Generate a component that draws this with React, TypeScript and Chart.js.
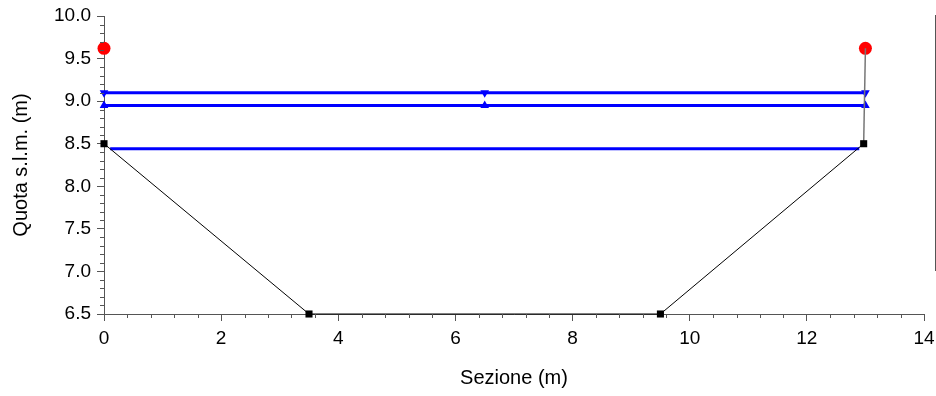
import React, { useEffect, useRef } from "react";
import { Chart, registerables } from "chart.js";

Chart.register(...registerables);

// Cross-section profile (black line, square markers)
const sectionX = [0, 3.5, 9.5, 12.97];
const sectionY = [8.5, 6.5, 6.5, 8.5];
// Bank tops (red circles)
const bankX = [0, 13];
const bankY = [9.62, 9.62];
// Right bank stem (grey line)
const stemX = [13, 12.97];
const stemY = [9.62, 8.5];
// Water levels (blue)
const level1X = [0, 6.5, 13];
const level1Y = [9.1, 9.1, 9.1];
const level2X = [0, 6.5, 13];
const level2Y = [8.95, 8.95, 8.95];
const level3X = [0.105, 12.895];
const level3Y = [8.44, 8.44];
// Axes
const xMin = 0, xMax = 14, xStep = 2, xMinorDiv = 5;
const yMin = 6.5, yMax = 10, yStep = 0.5, yMinorDiv = 5;
const xTitle = "Sezione (m)";
const yTitle = "Quota s.l.m. (m)";

const pts = (xs: number[], ys: number[]) => xs.map((x, i) => ({ x, y: ys[i] }));

const FONT = "'Liberation Sans', Arial, Helvetica, sans-serif";
const AXIS = "#555555";

const minorTicks = {
  id: "minorTicks",
  afterDraw(chart: any) {
    const { ctx, scales } = chart;
    const xs = scales.x, ys = scales.y;
    ctx.save();
    ctx.strokeStyle = AXIS;
    ctx.lineWidth = 1;
    ctx.beginPath();
    const xN = Math.round((xMax - xMin) / xStep) * xMinorDiv;
    for (let i = 0; i <= xN; i++) {
      if (i % xMinorDiv === 0) continue;
      const v = xMin + (i * xStep) / xMinorDiv;
      const px = Math.round(xs.getPixelForValue(v)) + 0.5;
      ctx.moveTo(px, xs.top);
      ctx.lineTo(px, xs.top + 4);
    }
    const yN = Math.round((yMax - yMin) / yStep) * yMinorDiv;
    for (let i = 0; i <= yN; i++) {
      if (i % yMinorDiv === 0) continue;
      const v = yMin + (i * yStep) / yMinorDiv;
      const py = Math.round(ys.getPixelForValue(v)) + 0.5;
      ctx.moveTo(ys.right, py);
      ctx.lineTo(ys.right - 4, py);
    }
    ctx.stroke();
    // cropped legend frame on the right edge
    ctx.beginPath();
    ctx.moveTo(935.5, 15);
    ctx.lineTo(935.5, 271);
    ctx.moveTo(935, 15.5);
    ctx.lineTo(940, 15.5);
    ctx.moveTo(935, 45.5);
    ctx.lineTo(940, 45.5);
    ctx.moveTo(935, 270.5);
    ctx.lineTo(940, 270.5);
    ctx.stroke();
    ctx.restore();
  },
};

export default function App() {
  const ref = useRef<HTMLCanvasElement>(null);
  useEffect(() => {
    if (!ref.current) return;
    const chart = new Chart(ref.current, {
      type: "line",
      data: {
        datasets: [
          {
            label: "Sezione",
            data: pts(sectionX, sectionY),
            borderColor: "#000000",
            borderWidth: 1,
            pointStyle: "rect",
            pointRadius: 5,
            pointBackgroundColor: "#000000",
            pointBorderColor: "#000000",
            pointBorderWidth: 0,
            clip: false,
          },
          {
            label: "Argine",
            data: pts(stemX, stemY),
            borderColor: "#777777",
            borderWidth: 1.5,
            pointRadius: 0,
            clip: false,
          },
          {
            label: "Livello 3",
            data: pts(level3X, level3Y),
            borderColor: "#0000ff",
            borderWidth: 3,
            pointRadius: 0,
            clip: false,
          },
          {
            label: "Livello 2",
            data: pts(level2X, level2Y),
            borderColor: "#0000ff",
            borderWidth: 3,
            pointStyle: "triangle",
            pointRadius: 5,
            pointBackgroundColor: "#0000ff",
            pointBorderColor: "#0000ff",
            pointBorderWidth: 0,
            clip: false,
          },
          {
            label: "Livello 1",
            data: pts(level1X, level1Y),
            borderColor: "#0000ff",
            borderWidth: 3,
            pointStyle: "triangle",
            pointRotation: 180,
            pointRadius: 5,
            pointBackgroundColor: "#0000ff",
            pointBorderColor: "#0000ff",
            pointBorderWidth: 0,
            clip: false,
          },
          {
            label: "Sponde",
            data: pts(bankX, bankY),
            showLine: false,
            pointStyle: "circle",
            pointRadius: 6.5,
            pointBackgroundColor: "#ff0000",
            pointBorderColor: "#ff0000",
            pointBorderWidth: 0,
            clip: false,
          },
        ],
      },
      options: {
        responsive: false,
        animation: false,
        events: [],
        layout: { padding: { top: 16, right: 12, left: 0, bottom: 0 } },
        plugins: { legend: { display: false }, tooltip: { enabled: false } },
        scales: {
          x: {
            type: "linear",
            min: xMin,
            max: xMax,
            afterFit: (s: any) => { s.height = 82; s.paddingLeft = 0; s.paddingRight = 0; },
            ticks: { stepSize: xStep, color: "#000", font: { family: FONT, size: 19 }, padding: 6, maxRotation: 0, autoSkip: false },
            grid: { display: true, drawOnChartArea: false, drawTicks: true, tickLength: 7, color: AXIS },
            border: { display: true, color: AXIS, width: 1 },
            title: { display: true, text: xTitle, color: "#000", font: { family: FONT, size: 20 }, padding: { top: 0, bottom: 6 } },
          },
          y: {
            type: "linear",
            min: yMin,
            max: yMax,
            afterFit: (s: any) => { s.width = 104; s.paddingTop = 0; s.paddingBottom = 0; },
            ticks: { stepSize: yStep, color: "#000", font: { family: FONT, size: 19 }, padding: 6, callback: (v: any) => Number(v).toFixed(1) },
            grid: { display: true, drawOnChartArea: false, drawTicks: true, tickLength: 7, color: AXIS },
            border: { display: true, color: AXIS, width: 1 },
            title: { display: true, text: yTitle, color: "#000", font: { family: FONT, size: 20 }, padding: { top: 9, bottom: 0 } },
          },
        },
      },
      plugins: [minorTicks],
    });
    return () => chart.destroy();
  }, []);
  return (
    <div style={{ position: "fixed", left: 0, top: 0, width: 936, height: 396, background: "#fff" }}>
      <canvas ref={ref} width={936} height={396} style={{ width: 936, height: 396, display: "block" }} />
    </div>
  );
}
